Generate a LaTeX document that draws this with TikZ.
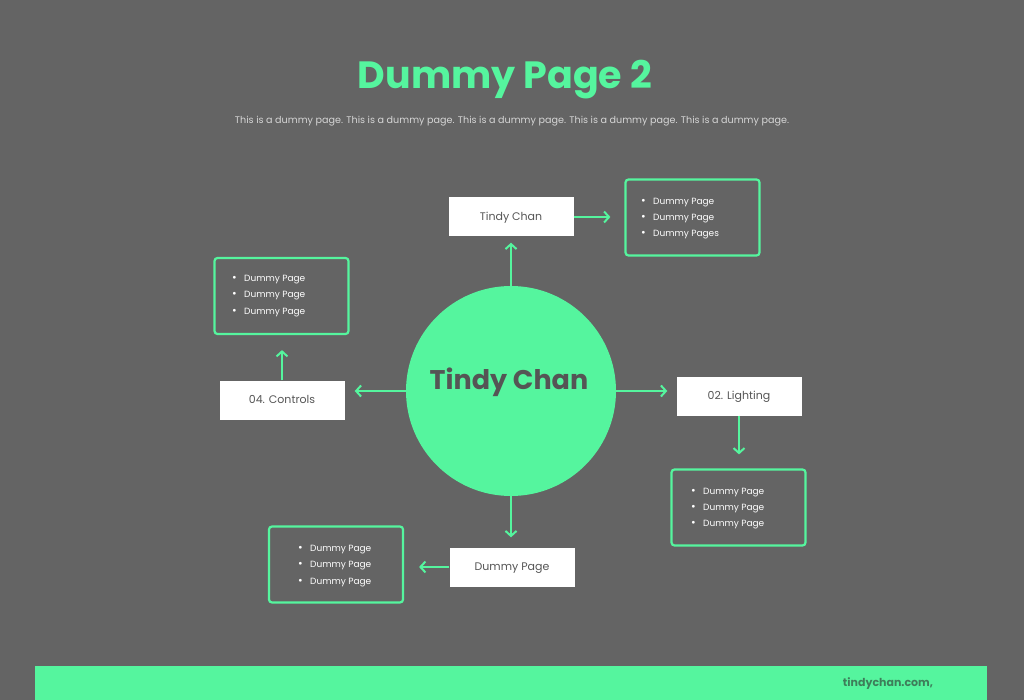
\documentclass[tikz,border=0pt]{standalone}
\usepackage{fontspec}
\setmainfont{Poppins}
\usetikzlibrary{arrows.meta}
\definecolor{bg}{HTML}{646464}
\definecolor{mint}{HTML}{55F59E}
\definecolor{ink}{HTML}{555555}
\definecolor{footink}{HTML}{3E7D5A}
\definecolor{subtext}{HTML}{D6D6D6}
\newcommand{\bul}{\makebox[12pt][l]{\raisebox{0pt}{\scalebox{1.25}{\textbullet}}}}
\begin{document}
\begin{tikzpicture}[x=1pt,y=-1pt,
  label/.style={rectangle, fill=white, minimum width=125pt, minimum height=39pt,
    inner sep=0pt, text=ink, font=\fontsize{11}{13}\selectfont,
    text height=8pt, text depth=1pt},
  listbox/.style={rectangle, draw=mint, line width=2.2pt, rounded corners=3pt,
    minimum width=134pt, minimum height=76pt, inner sep=0pt},
  listtext/.style={anchor=west, align=left, text=white, inner sep=0pt,
    font=\fontsize{9}{16.2}\selectfont},
  link/.style={draw=mint, line width=2pt,
    -{Straight Barb[length=5pt,width=11pt,line width=2pt]}}]
\fill[bg] (0,0) rectangle (1024,700);
\useasboundingbox (0,0) rectangle (1024,700);

% heading
\node[text=mint, font=\fontsize{38}{44}\selectfont\bfseries] (title) at (505,80) {Dummy Page 2};
\node[text=subtext, font=\fontsize{9.6}{11}\selectfont] (subtitle) at (512,121)
  {This is a dummy page. This is a dummy page. This is a dummy page. This is a dummy page. This is a dummy page.};

% central circle
\node[circle, fill=mint, minimum size=210pt, inner sep=0pt] (hub) at (511,391) {};
\node[text=ink, font=\fontsize{27}{31}\selectfont\bfseries] (hubtext) at (509,382) {Tindy Chan};

% label boxes
\node[label] (top) at (511,217) {Tindy Chan};
\node[label] (controls) at (282,400) {04. Controls};
\node[label] (lighting) at (739,396) {02. Lighting};
\node[label] (bottom) at (512,567) {Dummy Page};

% bullet list boxes
\node[listbox] (topList) at (692.5,217.5) {};
\node[listtext] (topListText) at (641,218.5) {\bul Dummy Page\\\bul Dummy Page\\\bul Dummy Pages};
\node[listbox] (leftList) at (281.5,296) {};
\node[listtext] (leftListText) at (232,296) {\bul Dummy Page\\\bul Dummy Page\\\bul Dummy Page};
\node[listbox] (rightList) at (738.5,507.5) {};
\node[listtext] (rightListText) at (691,508.5) {\bul Dummy Page\\\bul Dummy Page\\\bul Dummy Page};
\node[listbox] (bottomList) at (336,564.5) {};
\node[listtext] (bottomListText) at (298,566) {\bul Dummy Page\\\bul Dummy Page\\\bul Dummy Page};

% connectors
\draw[link, shorten >=6pt] (hub.north) -- (top.south);
\draw[link, shorten >=14pt] (top.east) -- (top.east -| topList.west);
\draw[link, shorten >=10pt] (hub.west) -- (hub.west -| controls.east);
\draw[link, shorten >=15pt] (controls.north) -- (controls.north |- leftList.south);
\draw[link, shorten >=9pt] (hub.east) -- (hub.east -| lighting.west);
\draw[link, shorten >=14pt] (lighting.south) -- (lighting.south |- rightList.north);
\draw[link, shorten >=10pt] (hub.south) -- (bottom.north -| hub.south);
\draw[link, shorten >=15pt] (bottom.west) -- (bottom.west -| bottomList.east);

% footer band
\fill[mint] (35,666) rectangle (987,700);
\node[text=footink, font=\fontsize{11}{13}\selectfont\bfseries] (site) at (888,684) {tindychan.com,};
\end{tikzpicture}
\end{document}
